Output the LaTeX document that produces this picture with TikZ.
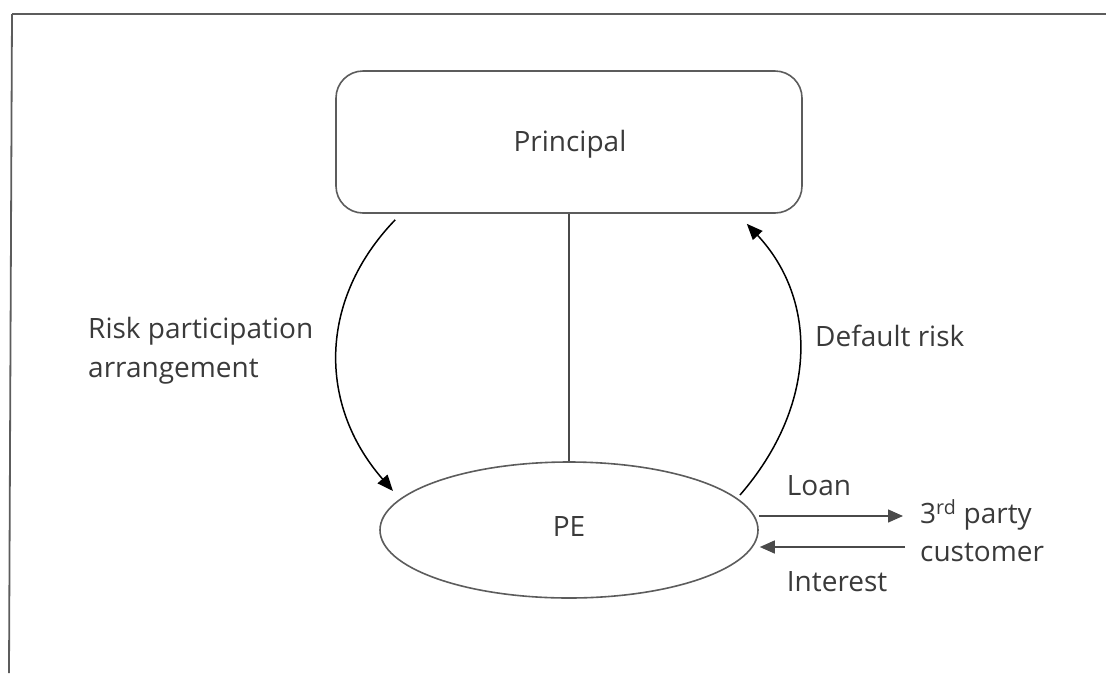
\documentclass[tikz,border=0pt]{standalone}
\usepackage{fontspec}
\setmainfont{Open Sans}
\usetikzlibrary{arrows.meta,shapes.geometric,calc}
\definecolor{ink}{HTML}{3A3A3A}
\definecolor{edge}{HTML}{5C5C5C}
\begin{document}
\begin{tikzpicture}[x=1pt,y=-1pt,
  lbl/.style={inner sep=0pt,text=ink,font=\fontsize{28}{38.5}\selectfont,align=left},
  shapeline/.style={draw=edge,line width=1.6pt},
  curvearr/.style={draw=black,line width=1.5pt,-{Triangle[length=16pt,width=13pt]}},
  flowarr/.style={draw=edge!80!black,line width=1.4pt,-{Triangle[length=15pt,width=13pt]}}]
\useasboundingbox (0,0) rectangle (1106,673);
% page frame (top and left rules)
\draw[edge,line width=1.8pt] (12,14) -- (1106,14);
\draw[edge,line width=1.8pt] (12,14) -- (9,673);
% entities
\node[shapeline,rounded corners=27pt,minimum width=466pt,minimum height=142pt,inner sep=0pt]
  (prin) at (569,142) {};
\node[lbl,anchor=base] (prinlbl) at (570,151.7) {Principal};
\node[shapeline,ellipse,minimum width=378pt,minimum height=136pt,inner sep=0pt]
  (pe) at (569,530) {};
\node[lbl,anchor=base] (pelbl) at (569,536.7) {PE};
% multi-line labels are placed by the baseline of their last line
\node[lbl,anchor=base west] (cust) at (920,561.7) {3\textsuperscript{rd} party\\customer};
% link between principal and PE
\draw[edge!80!black,line width=1.4pt] (prin.south) -- (pe.north);
% risk participation arrangement
\coordinate (rpS) at ($(prin.south west)+(60,6)$);
\coordinate (rpE) at ($(pe.center)+(-176,-39)$);
\draw[curvearr] (rpS) .. controls (318,300) and (318,405) .. (rpE);
\node[lbl,anchor=base west] (rplbl) at (88,377.3) {Risk participation\\arrangement};
% default risk
\coordinate (drS) at ($(pe.center)+(171,-35)$);
\coordinate (drE) at ($(prin.south east)+(-56,10)$);
\draw[curvearr] (drS) .. controls (818,405) and (818,300) .. (drE);
\node[lbl,anchor=base west] (drlbl) at (815,346.7) {Default risk};
% loan and interest flows
\coordinate (loanS) at ($(pe.east)+(0,-14)$);
\coordinate (intS) at ($(pe.east)+(1,17)$);
\draw[flowarr,shorten >=17pt] (loanS) -- (loanS -| cust.west);
\draw[flowarr,shorten <=15pt] (intS -| cust.west) -- (intS);
\node[lbl,anchor=base west] (loanlbl) at (786.7,495) {Loan};
\node[lbl,anchor=base west] (intlbl) at (786.7,591.7) {Interest};
\end{tikzpicture}
\end{document}
